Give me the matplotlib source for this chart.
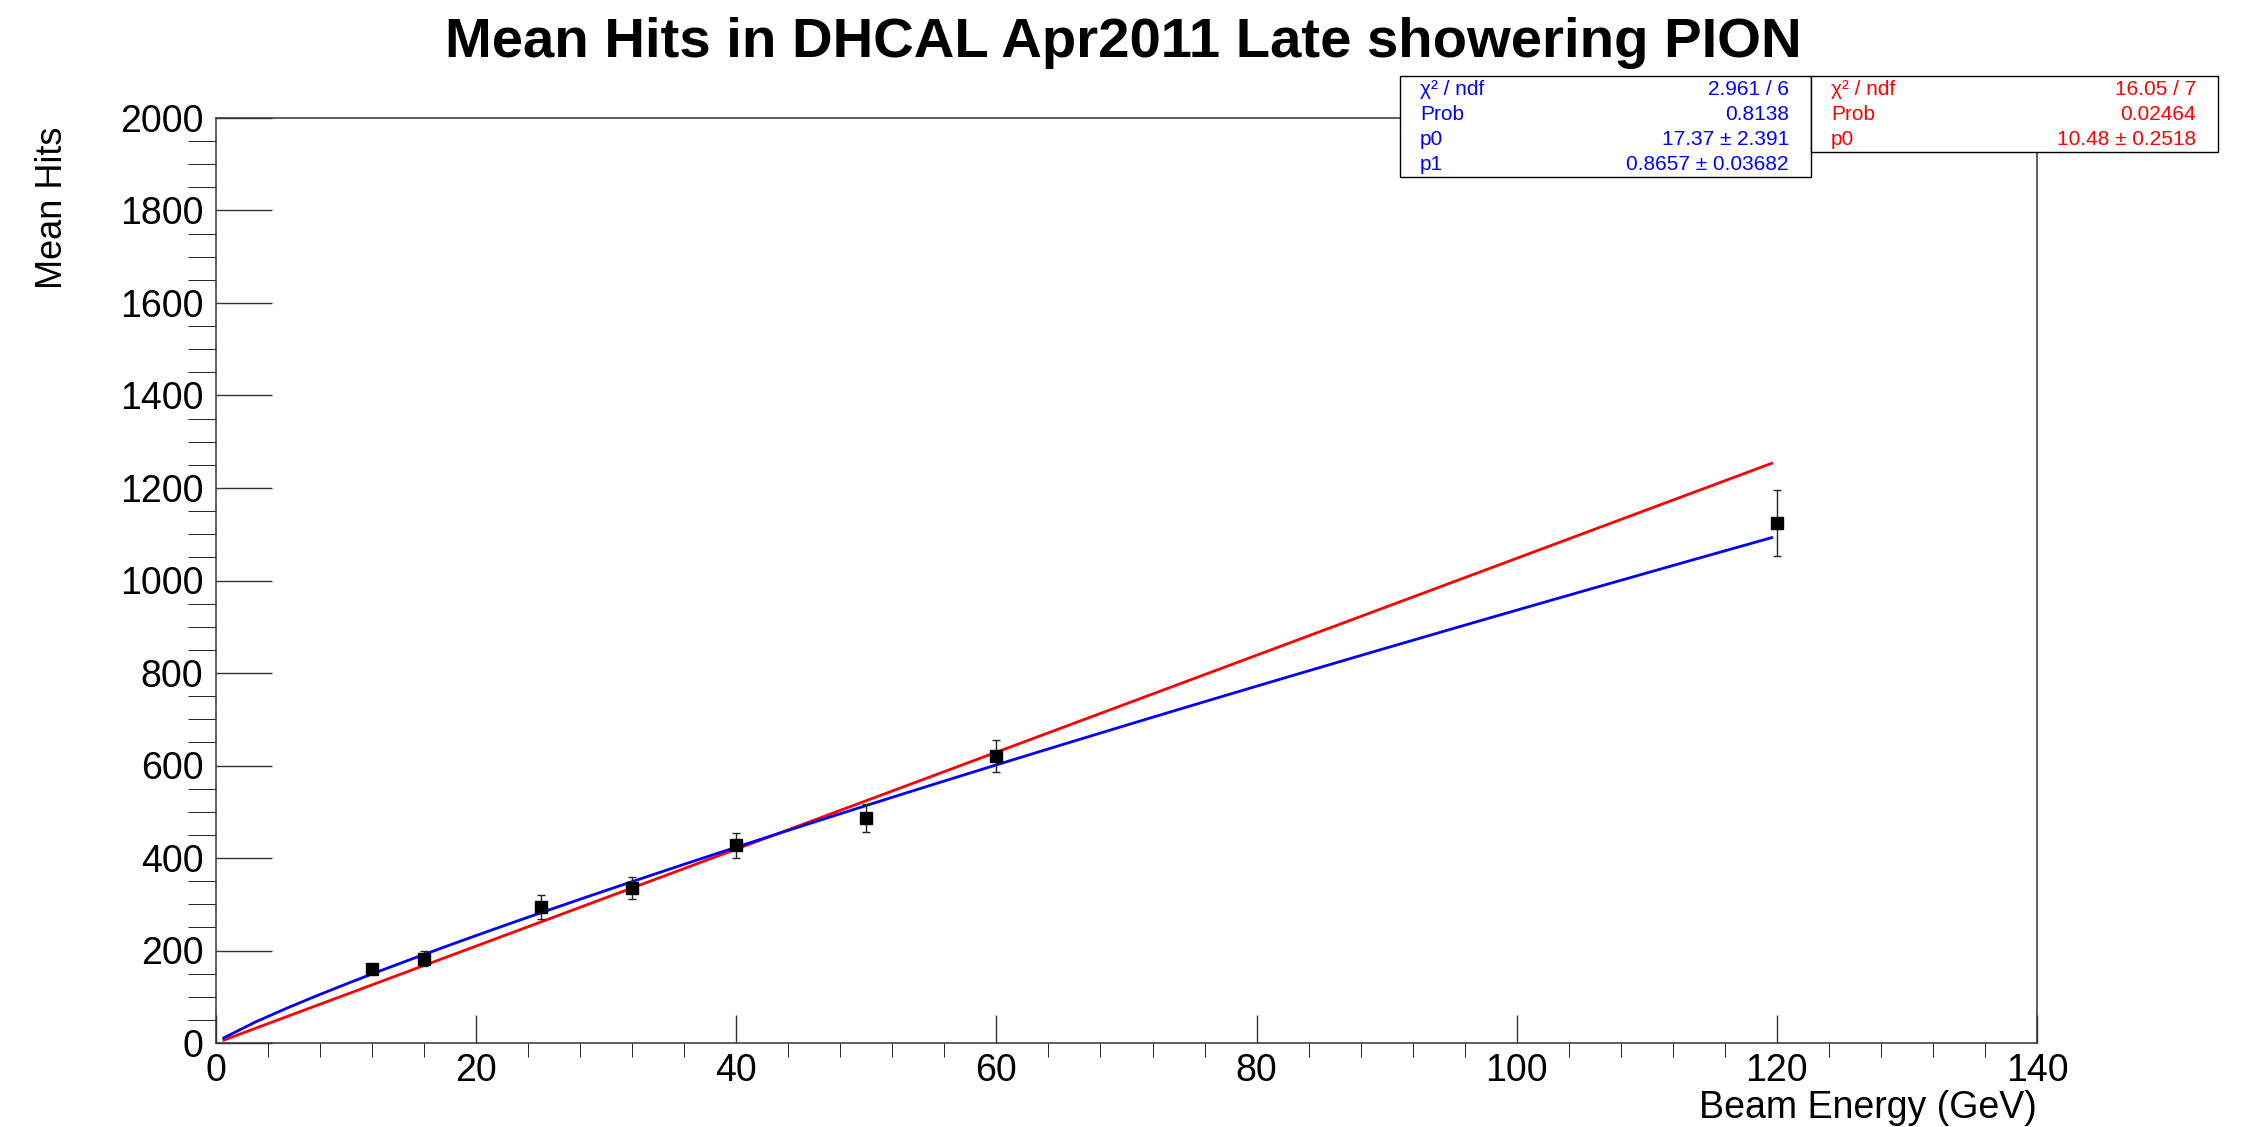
import matplotlib.pyplot as plt
from matplotlib.patches import Rectangle
import numpy as np

plt.rcParams['font.family'] = ['Liberation Sans', 'DejaVu Sans']

# beam energy points and mean hits
energy = [12, 16, 25, 32, 40, 50, 60, 120]
mean_hits = [160, 182, 294, 335, 428, 486, 620, 1125]
hits_err = [8, 16, 25, 23, 27, 30, 35, 71]

# fit results (power law p0*E^p1 in blue, linear p0*E in red)
blue_p0, blue_p1 = 17.37, 0.8657
red_p0 = 10.48
blue_stats = [("χ² / ndf", "2.961 / 6"), ("Prob", "0.8138"),
              ("p0", "17.37 ± 2.391"), ("p1", "0.8657 ± 0.03682")]
red_stats = [("χ² / ndf", "16.05 / 7"), ("Prob", "0.02464"),
             ("p0", "10.48 ± 0.2518")]

W, H = 2257, 1127
fig = plt.figure(figsize=(W / 100, H / 100), dpi=100)
ax = fig.add_axes([216 / W, 1 - 1043 / H, (2037 - 216) / W, (1043 - 118) / H])

xf = np.linspace(0.6, 119.6, 50)
ax.plot(xf, red_p0 * xf, color='#ff0000', lw=2.0, zorder=2)
ax.plot(xf, blue_p0 * xf ** blue_p1, color='#0000ff', lw=2.0, zorder=3)
ax.errorbar(energy, mean_hits, yerr=hits_err, fmt='s', color='black',
            ms=8, ecolor='#222222', elinewidth=1.0, capsize=3, capthick=1.0,
            zorder=4)

ax.set_xlim(0, 140)
ax.set_ylim(0, 2000)
ax.set_xticks(np.arange(0, 141, 20))
ax.set_xticks(np.arange(0, 141, 4), minor=True)
ax.set_yticks(np.arange(0, 2001, 200))
ax.set_yticks(np.arange(0, 2001, 50), minor=True)
ax.tick_params(axis='both', direction='in', labelsize=27, width=1.0,
               color='#333333', top=False, right=False)
ax.tick_params(axis='y', which='major', length=40, pad=9)
ax.tick_params(axis='y', which='minor', length=20)
ax.tick_params(axis='x', which='major', length=20, pad=7)
ax.tick_params(axis='x', which='minor', length=10)
for s in ax.spines.values():
    s.set_linewidth(1.1)
    s.set_color('#333333')

fig.text(1123 / W, 1 - 43 / H, "Mean Hits in DHCAL Apr2011 Late showering PION",
         ha='center', va='center', fontsize=40.5, fontweight='bold')
fig.text(53 / W, 1 - 127 / H, "Mean Hits", rotation=90, ha='center', va='top',
         fontsize=26)
fig.text(2037 / W, 1 - 1108 / H, "Beam Energy (GeV)", ha='right', va='center',
         fontsize=27)


def stat_box(x0, x1, y0, rows, color):
    row_h = 25
    y1 = y0 + row_h * len(rows) + 1
    fig.patches.append(Rectangle((x0 / W, 1 - y1 / H), (x1 - x0) / W,
                                 (y1 - y0) / H, transform=fig.transFigure,
                                 facecolor='white', edgecolor='black',
                                 lw=1.0, zorder=10))
    for i, (name, val) in enumerate(rows):
        yc = y0 + row_h * (i + 0.5) + 1
        fig.text((x0 + 20) / W, 1 - yc / H, name, ha='left', va='center',
                 fontsize=15, color=color, zorder=11)
        fig.text((x1 - 22) / W, 1 - yc / H, val, ha='right', va='center',
                 fontsize=15, color=color, zorder=11)


stat_box(1400, 1811, 76, blue_stats, '#0000ff')
stat_box(1811, 2218, 76, red_stats, '#ff0000')

fig.savefig('out.png', dpi=100)
